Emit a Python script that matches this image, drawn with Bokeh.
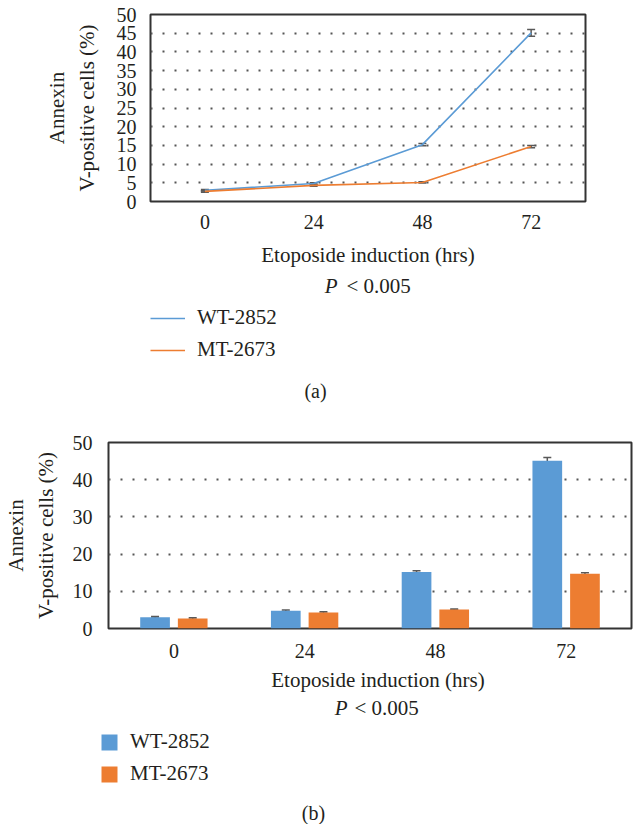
from bokeh.plotting import figure
from bokeh.models import (ColumnDataSource, Whisker, TeeHead, Legend, LegendItem,
                          Label, FactorRange, SingleIntervalTicker, Range1d)
from bokeh.transform import dodge
from bokeh.embed import file_html
from bokeh.resources import INLINE

# ---------------- data ----------------
hours = ["0", "24", "48", "72"]
wt = [3.0, 4.8, 15.2, 45.1]
mt = [2.7, 4.3, 5.1, 14.7]
wt_err = [0.2, 0.2, 0.3, 0.9]
mt_err = [0.2, 0.2, 0.15, 0.3]
series_names = ["WT-2852", "MT-2673"]
x_title = "Etoposide induction (hrs)"
y_title = "Annexin\nV-positive cells (%)"
p_symbol = "P"
p_rest = "<  0.005"
panel_tags = ["(a)", "(b)"]

FONT = "Liberation Serif"
TXT = "#231f20"
BLUE = "#5b9bd5"
ORANGE = "#ed7d31"
ERR = "#595959"
W = 633
NAN = float("nan")

src = ColumnDataSource(dict(
    x=hours, wt=wt, mt=mt,
    wt_lo=[v - e for v, e in zip(wt, wt_err)], wt_hi=[v + e for v, e in zip(wt, wt_err)],
    mt_lo=[v - e for v, e in zip(mt, mt_err)], mt_hi=[v + e for v, e in zip(mt, mt_err)],
))


def style(p, step, tick_standoff, label_standoff, x_tick_standoff):
    p.outline_line_color = "#333333"
    p.outline_line_width = 2
    p.xgrid.grid_line_color = None
    p.ygrid.grid_line_color = "#555555"
    p.ygrid.grid_line_dash = "2 10"
    p.ygrid.grid_line_width = 2
    p.yaxis.ticker = SingleIntervalTicker(interval=step)
    for ax in p.axis:
        ax.axis_line_color = None
        ax.major_tick_line_color = None
        ax.minor_tick_line_color = None
        ax.major_label_text_font = FONT
        ax.major_label_text_font_size = "20px"
        ax.major_label_text_color = TXT
    p.yaxis.major_label_standoff = tick_standoff
    p.xaxis.major_label_standoff = x_tick_standoff
    p.yaxis.axis_label = y_title
    p.yaxis.axis_label_text_font = FONT
    p.yaxis.axis_label_text_font_size = "21px"
    p.yaxis.axis_label_text_font_style = "normal"
    p.yaxis.axis_label_text_color = TXT
    p.yaxis.axis_label_text_line_height = 1.25
    p.yaxis.axis_label_standoff = label_standoff


def text_fig(h):
    # blank strip whose data coordinates are its pixels (y downward)
    t = figure(width=W, height=h, x_range=Range1d(0, W), y_range=Range1d(h, 0),
               output_backend="svg", toolbar_location=None,
               x_axis_location=None, y_axis_location=None,
               min_border=0, min_border_left=0, min_border_right=0,
               min_border_top=0, min_border_bottom=0)
    t.grid.visible = False
    t.outline_line_color = None
    return t


def add_texts(t, top, etop_x, etop_y, p_right, p_left, p_y, tag, tag_x, tag_y):
    common = dict(text_font=FONT, text_color=TXT, text_baseline="middle")
    t.add_layout(Label(x=etop_x, y=etop_y - top, text=x_title, text_align="center",
                       text_font_size="21px", **common))
    t.add_layout(Label(x=p_right, y=p_y - top, text=p_symbol, text_align="right",
                       text_font_size="21px", text_font_style="italic", **common))
    t.add_layout(Label(x=p_left, y=p_y - top, text=p_rest, text_align="left",
                       text_font_size="21px", **common))
    t.add_layout(Label(x=tag_x, y=tag_y - top, text=tag, text_align="center",
                       text_font_size="20px", **common))


def legend(items, loc, gw, standoff):
    return Legend(items=items, location=loc, orientation="vertical", glyph_width=gw,
                  glyph_height=20, label_height=20, spacing=7, padding=0, margin=0,
                  border_line_color=None, background_fill_alpha=0, label_standoff=standoff,
                  label_text_font=FONT, label_text_font_size="21px", label_text_color=TXT)


def whisk(base, lo, hi):
    return Whisker(base=base, lower=lo, upper=hi, source=src, line_color=ERR, line_width=1.5,
                   upper_head=TeeHead(size=8, line_color=ERR, line_width=1.5),
                   lower_head=TeeHead(size=8, line_color=ERR, line_width=1.5))


# ---------------- panel (a): line chart ----------------
H1 = 235
p1 = figure(x_range=FactorRange(*hours), y_range=Range1d(0, 50), width=W, height=H1,
            output_backend="svg", toolbar_location=None,
            min_border_left=150, min_border_right=48, min_border_top=14, min_border_bottom=H1 - 201)
style(p1, 5, 8, 15, 7)
p1.line("x", "wt", source=src, line_color=BLUE, line_width=1.6)
p1.line("x", "mt", source=src, line_color=ORANGE, line_width=1.6)
p1.add_layout(whisk("x", "wt_lo", "wt_hi"))
p1.add_layout(whisk("x", "mt_lo", "mt_hi"))

T1 = 412 - H1
t1 = text_fig(T1)
k1 = t1.line(x=[NAN], y=[NAN], line_color=BLUE, line_width=1.6)
k2 = t1.line(x=[NAN], y=[NAN], line_color=ORANGE, line_width=1.6)
t1.add_layout(legend([LegendItem(label=series_names[0], renderers=[k1]),
                      LegendItem(label=series_names[1], renderers=[k2])],
                     (150, 412 - 362), 35, 12), "center")
add_texts(t1, H1, 367.5, 254, 337, 346, 285, panel_tags[0], 315, 390)

# ---------------- panel (b): bar chart ----------------
H2 = 248
p2 = figure(x_range=FactorRange(*hours), y_range=Range1d(0, 50), width=W, height=H2,
            output_backend="svg", toolbar_location=None,
            min_border_left=102, min_border_right=2, min_border_top=30, min_border_bottom=H2 - 216)
style(p2, 10, 10, 12, 9)
OFF = 0.144
BW = 0.227
p2.vbar(x=dodge("x", -OFF, range=p2.x_range), top="wt", width=BW, source=src,
        fill_color=BLUE, line_color=None)
p2.vbar(x=dodge("x", OFF, range=p2.x_range), top="mt", width=BW, source=src,
        fill_color=ORANGE, line_color=None)
p2.add_layout(whisk(dodge("x", -OFF, range=p2.x_range), "wt_lo", "wt_hi"))
p2.add_layout(whisk(dodge("x", OFF, range=p2.x_range), "mt_lo", "mt_hi"))

T2 = 824 - 412 - H2
t2 = text_fig(T2)
s1 = t2.vbar(x=[NAN], top=[NAN], width=1, fill_color=BLUE, line_color=None)
s2 = t2.vbar(x=[NAN], top=[NAN], width=1, fill_color=ORANGE, line_color=None)
t2.add_layout(legend([LegendItem(label=series_names[0], renderers=[s1]),
                      LegendItem(label=series_names[1], renderers=[s2])],
                     (99, 824 - 786), 20, 11), "center")
top2 = 412 + H2
add_texts(t2, top2, 377.5, 679, 347, 354, 707, panel_tags[1], 313, 812)

open("out.html", "w").write(file_html([p1, t1, p2, t2], INLINE))
